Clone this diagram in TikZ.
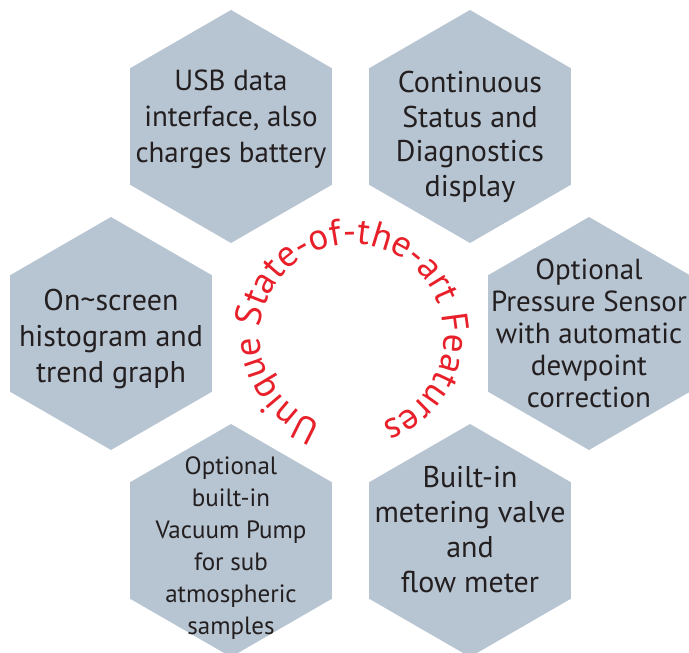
\documentclass[tikz,border=0pt]{standalone}
\usepackage{fontspec}
\setmainfont{PT Sans}
\usepackage{tikz}
\usetikzlibrary{shapes.geometric, decorations.text}

\definecolor{hexgris}{HTML}{B7C4D1}
\definecolor{textogris}{HTML}{231F20}
\definecolor{rojo}{HTML}{E8202A}

\tikzset{
  hexa/.style={regular polygon, regular polygon sides=6, shape border rotate=30,
    minimum size=233pt, inner sep=0pt, fill=hexgris, draw=none},
  texto/.style={align=center, text=textogris, inner sep=0pt,
    font=\fontsize{30}{36}\selectfont}
}

\begin{document}
\begin{tikzpicture}[x=1pt, y=1pt]
        % Marco de la figura
        \useasboundingbox (0,0) rectangle (689,653);
        % Hexágonos
        \node[hexa] (usb) at (231,526.5) {};
        \node[hexa] (estado) at (470,526.5) {};
        \node[hexa] (pantalla) at (111,319.5) {};
        \node[hexa] (presion) at (589,319.5) {};
        \node[hexa] (bomba) at (231,112.5) {};
        \node[hexa] (valvula) at (470,112.5) {};
        % Textos de cada hexágono
        \node[texto, font=\fontsize{29}{36}\selectfont] (usbt) at (231,534) {USB data\\interface, also\\charges battery};
        \node[texto, font=\fontsize{30}{34.5}\selectfont] (estadot) at (470,516) {Continuous\\Status and\\Diagnostics\\display};
        \node[texto] (pantallat) at (111,314) {On\textasciitilde screen\\histogram and\\trend graph};
        \node[texto, font=\fontsize{29}{32}\selectfont] (presiont) at (589,319.5) {Optional\\Pressure Sensor\\with automatic\\dewpoint\\correction};
        \node[texto, font=\fontsize{25}{32}\selectfont] (bombat) at (231,105) {Optional\\built-in\\Vacuum Pump\\for sub\\atmospheric\\samples};
        \node[texto, font=\fontsize{30}{35}\selectfont] (valvulat) at (470,123) {Built-in\\metering valve\\and\\flow meter};
        % Texto curvo central
        \path[decorate, decoration={text along path, text align=center,
          text={|\fontsize{37}{37}\selectfont\color{rojo}|Unique State-of-the-art Features}}]
          (352,317) ++(252:92) arc[start angle=252, end angle=-72, radius=92];
\end{tikzpicture}
\end{document}
